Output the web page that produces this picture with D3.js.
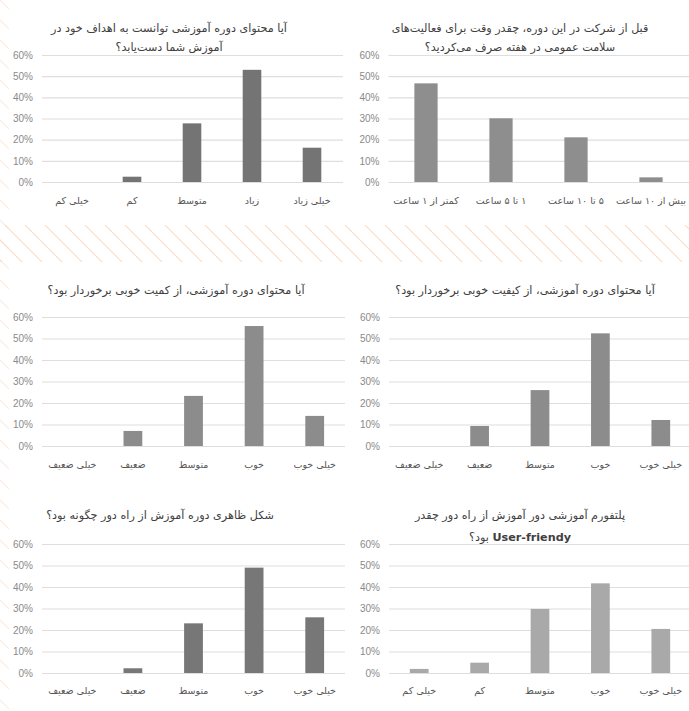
<!DOCTYPE html>
<html><head><meta charset="utf-8">
<script src="https://cdn.jsdelivr.net/npm/d3@7"></script>
<style>
html,body{margin:0;padding:0;background:#fff;}
svg{display:block;}
</style>
</head><body>
<svg id="c" width="689" height="711"></svg>
<script>
// ---- data ----
const yTicks = [0, 0.1, 0.2, 0.3, 0.4, 0.5, 0.6];

const title1 = ["آیا محتوای دوره آموزشی توانست به اهداف خود در", "آموزش شما دست‌یابد؟"];
const cats1 = ["خیلی کم", "کم", "متوسط", "زیاد", "خیلی زیاد"];
const vals1 = [0, 0.025, 0.277, 0.53, 0.162];

const title2 = ["قبل از شرکت در این دوره، چقدر وقت برای فعالیت‌های", "سلامت عمومی در هفته صرف می‌کردید؟"];
const cats2 = ["کمتر از ۱ ساعت", "۱ تا ۵ ساعت", "۵ تا ۱۰ ساعت", "بیش از ۱۰ ساعت"];
const vals2 = [0.466, 0.301, 0.211, 0.022];

const title3 = ["آیا محتوای دوره آموزشی، از کمیت خوبی برخوردار بود؟"];
const cats3 = ["خیلی ضعیف", "ضعیف", "متوسط", "خوب", "خیلی خوب"];
const vals3 = [0, 0.07, 0.233, 0.558, 0.14];

const title4 = ["آیا محتوای دوره آموزشی، از کیفیت خوبی برخوردار بود؟"];
const cats4 = ["خیلی ضعیف", "ضعیف", "متوسط", "خوب", "خیلی خوب"];
const vals4 = [0, 0.093, 0.26, 0.524, 0.121];

const title5 = ["شکل ظاهری دوره آموزش از راه دور چگونه بود؟"];
const cats5 = ["خیلی ضعیف", "ضعیف", "متوسط", "خوب", "خیلی خوب"];
const vals5 = [0, 0.022, 0.231, 0.49, 0.259];

const title6 = ["پلتفورم آموزشی دور آموزش از راه دور چقدر", "User-friendy بود؟"];
const cats6 = ["خیلی کم", "کم", "متوسط", "خوب", "خیلی خوب"];
const vals6 = [0.019, 0.048, 0.298, 0.417, 0.205];

// ---- layout ----
const panels = [
  {title: title1, cats: cats1, vals: vals1, x0: 42, x1: 342, gx1: 343, yTop: 55, yBot: 182, titleX: 169, titleY: [28, 47], catY: 203, color: "#747474"},
  {title: title2, cats: cats2, vals: vals2, x0: 388.5, x1: 688.5, gx1: 689, yTop: 55, yBot: 182, titleX: 520, titleY: [28, 47], catY: 203, color: "#8e8e8e"},
  {title: title3, cats: cats3, vals: vals3, x0: 42, x1: 345, gx1: 345, yTop: 317, yBot: 446, titleX: 176, titleY: [290], catY: 467, color: "#8c8c8c"},
  {title: title4, cats: cats4, vals: vals4, x0: 389, x1: 691, gx1: 689, yTop: 317, yBot: 446, titleX: 525, titleY: [290], catY: 467, color: "#8c8c8c"},
  {title: title5, cats: cats5, vals: vals5, x0: 42, x1: 345, gx1: 345, yTop: 544, yBot: 673, titleX: 160, titleY: [515], catY: 693, color: "#777777"},
  {title: title6, cats: cats6, vals: vals6, x0: 389, x1: 691, gx1: 689, yTop: 544, yBot: 673, titleX: 520, titleY: [515, 537], catY: 693, color: "#a9a9a9"}
];

const svg = d3.select("#c");
const defs = svg.append("defs");
const pat = defs.append("pattern").attr("id", "hatch")
  .attr("patternUnits", "userSpaceOnUse").attr("width", 20).attr("height", 20);
pat.append("path").attr("d", "M-5,-5L25,25M-5,15L5,25M15,-5L25,5")
  .attr("stroke", "#f7dcc8").attr("stroke-width", 1.1).attr("fill", "none");

// hatched band between rows and left strip
svg.append("rect").attr("x", 0).attr("y", 225).attr("width", 689).attr("height", 37).attr("fill", "url(#hatch)");
svg.append("rect").attr("x", 0).attr("y", 0).attr("width", 9).attr("height", 711).attr("fill", "url(#hatch)").attr("opacity", 0.6);

const persian = "'DejaVu Sans', 'Noto Sans', sans-serif";

panels.forEach(p => {
  const g = svg.append("g");
  const x = d3.scaleBand().domain(p.cats).range([p.x0, p.x1]);
  const y = d3.scaleLinear().domain([0, 0.6]).range([p.yBot, p.yTop]);

  // y axis + gridlines
  const ya = g.append("g").attr("transform", `translate(${p.x0},0)`)
    .call(d3.axisLeft(y).tickValues(yTicks).tickFormat(d3.format(".0%"))
      .tickSizeInner(-(p.gx1 - p.x0)).tickSizeOuter(0).tickPadding(9));
  ya.select(".domain").remove();
  ya.selectAll(".tick line").attr("stroke", "#dedede").attr("stroke-width", 1.2);
  ya.selectAll(".tick text").attr("fill", "#8a8a8a")
    .attr("font-family", "'Liberation Sans', Arial, sans-serif").attr("font-size", 10);

  // bars
  const bw = x.bandwidth() * 0.31;
  g.selectAll("rect.bar").data(p.vals).enter().append("rect")
    .attr("class", "bar")
    .attr("x", (d, i) => x(p.cats[i]) + x.bandwidth() / 2 - bw / 2)
    .attr("width", bw)
    .attr("y", d => y(d))
    .attr("height", d => y(0) - y(d))
    .attr("fill", p.color);

  // x axis labels
  const xa = g.append("g").attr("transform", `translate(0,${p.catY - 6})`)
    .call(d3.axisBottom(x).tickSize(0).tickPadding(0));
  xa.select(".domain").remove();
  xa.selectAll(".tick text").attr("fill", "#555")
    .attr("font-family", persian).attr("font-size", 9.5)
    .attr("direction", "rtl");

  // title
  p.title.forEach((t, i) => {
    const txt = g.append("text").attr("x", p.titleX).attr("y", p.titleY[i]).attr("dy", "0.35em")
      .attr("text-anchor", "middle").attr("direction", "rtl")
      .attr("font-family", persian).attr("font-size", 11.2).attr("fill", "#404040");
    if (t.includes("User")) {
      const parts = t.split(" ");
      txt.append("tspan").attr("font-weight", "bold").text(parts[0]);
      txt.append("tspan").text(" " + parts.slice(1).join(" "));
    } else {
      txt.text(t);
    }
  });
});
</script>
</body></html>
